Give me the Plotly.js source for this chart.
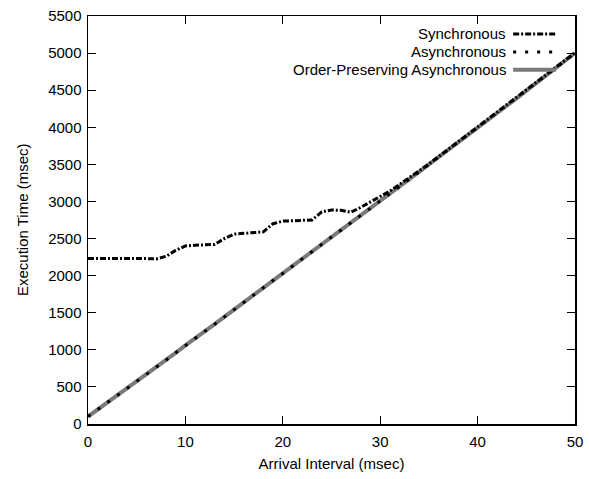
<!DOCTYPE html>
<html>
<head>
<meta charset="utf-8">
<script src="https://cdn.plot.ly/plotly-3.0.1.min.js"></script>
<style>html,body{margin:0;padding:0;background:#fff;}#chart{width:589px;height:479px;}</style>
</head>
<body>
<div id="chart"></div>
<script>
var arrivalInterval = [0,1,2,3,4,5,6,7,8,9,10,11,12,13,14,15,16,17,18,19,20,21,22,23,24,25,26,27,28,29,30,31,32,33,34,35,36,37,38,39,40,41,42,43,44,45,46,47,48,49,50];
var synchronous = [2230,2230,2235,2235,2240,2235,2230,2225,2260,2340,2400,2410,2410,2420,2500,2560,2570,2575,2590,2700,2735,2740,2740,2750,2860,2885,2880,2855,2920,2990,3060,3140,3230,3320,3410,3505,3605,3705,3805,3905,4005,4105,4200,4300,4400,4500,4600,4700,4800,4905,5005];
var asynchronous = [100,195,285,375,480,570,670,765,860,960,1060,1150,1250,1345,1445,1540,1640,1735,1835,1935,2030,2130,2225,2325,2420,2520,2615,2715,2810,2910,3005,3105,3200,3300,3400,3500,3595,3695,3795,3895,3995,4095,4190,4290,4390,4490,4590,4690,4790,4895,5000];
var orderPreserving = [100,195,285,378,480,572,670,765,862,960,1060,1152,1250,1347,1445,1542,1640,1737,1835,1935,2032,2130,2227,2325,2422,2520,2617,2715,2812,2910,3007,3105,3202,3300,3400,3500,3597,3695,3795,3895,3997,4095,4192,4290,4390,4490,4590,4690,4790,4895,5000];
var seriesNames = ["Synchronous", "Asynchronous", "Order-Preserving Asynchronous"];
var xTicks = [0,10,20,30,40,50];
var yTicks = [0,500,1000,1500,2000,2500,3000,3500,4000,4500,5000,5500];

var FONT = "Liberation Sans, Arial, Helvetica, sans-serif";
var syncDash = "6px,2px,2px,2px";
var asyncDash = "3px,9px";

var traces = [
  {x: arrivalInterval, y: orderPreserving, mode: "lines", name: seriesNames[2],
   line: {color: "#7a7a7a", width: 4}},
  {x: arrivalInterval, y: synchronous, mode: "lines", name: seriesNames[0],
   line: {color: "#000", width: 3, dash: syncDash}},
  {x: arrivalInterval, y: asynchronous, mode: "lines", name: seriesNames[1],
   line: {color: "#000", width: 3, dash: asyncDash}}
];

// gnuplot-style key: text right-aligned, sample to the right
var rowsY = [0.956, 0.912, 0.868];
var legendStyles = [
  {color: "#000", width: 3, dash: syncDash},
  {color: "#000", width: 3, dash: asyncDash},
  {color: "#7a7a7a", width: 4, dash: "solid"}
];
var annotations = [], shapes = [];
for (var i = 0; i < 3; i++) {
  annotations.push({xref: "paper", yref: "paper", x: 0.862, y: rowsY[i], xanchor: "right", yanchor: "middle",
    text: seriesNames[i], showarrow: false, font: {family: FONT, size: 15, color: "#000"}});
  shapes.push({type: "line", xref: "paper", yref: "paper", x0: 0.873, x1: 0.961, y0: rowsY[i], y1: rowsY[i],
    line: legendStyles[i]});
}
// y-axis title placed as a rotated annotation
annotations.push({xref: "paper", yref: "paper", x: -0.1355, y: 0.5, xanchor: "center", yanchor: "middle",
  textangle: -90, text: "Execution Time (msec)", showarrow: false, font: {family: FONT, size: 15, color: "#000"}});

var axisCommon = {
  showgrid: false, zeroline: false, showline: true, linecolor: "#000", linewidth: 1.5,
  mirror: "ticks", ticks: "inside", ticklen: 8, tickwidth: 1, tickcolor: "#000",
  tickfont: {family: FONT, size: 15, color: "#000"}
};

var layout = {
  width: 589, height: 479,
  margin: {l: 88, r: 14, t: 16, b: 55},
  paper_bgcolor: "#fff", plot_bgcolor: "#fff",
  showlegend: false,
  font: {family: FONT, color: "#000"},
  xaxis: Object.assign({}, axisCommon, {
    range: [0, 50], tickvals: xTicks, ticktext: xTicks.map(String), ticklabelstandoff: 3,
    title: {text: "Arrival Interval (msec)", font: {family: FONT, size: 15, color: "#000"}, standoff: 10}
  }),
  yaxis: Object.assign({}, axisCommon, {
    range: [0, 5500], tickvals: yTicks, ticktext: yTicks.map(String), ticklabelstandoff: 2
  }),
  annotations: annotations,
  shapes: shapes
};

Plotly.newPlot("chart", traces, layout, {displayModeBar: false, staticPlot: true});
</script>
</body>
</html>
